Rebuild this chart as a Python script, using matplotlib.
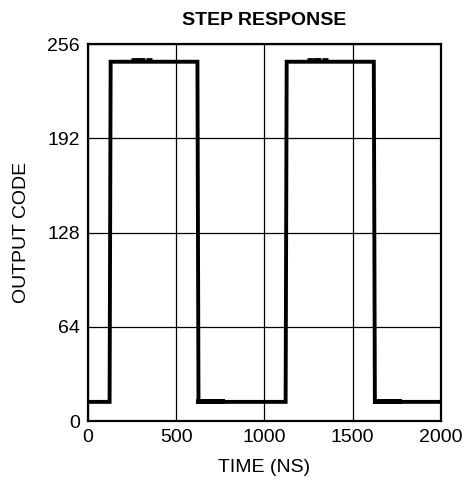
import matplotlib.pyplot as plt

plt.rcParams['font.family'] = ['Liberation Sans', 'DejaVu Sans']

# step response corners (time in ns, output code)
time_ns = [0, 122, 125, 128, 620, 623, 626, 1120, 1123, 1126, 1620, 1623, 1626, 2000]
code = [13, 13, 128, 244, 244, 128, 13, 13, 128, 244, 244, 128, 13, 13]

# settling tails just after the falling edges
tail_t = [[626, 760], [1626, 1760]]
tail_c = [[13.5, 13.5], [13.5, 13.5]]

x_ticks = [0, 500, 1000, 1500, 2000]
y_ticks = [0, 64, 128, 192, 256]


def main():
    fig = plt.figure(figsize=(4.66, 4.87), dpi=100)
    ax = fig.add_axes([0.189, 0.1355, 0.757, 0.774])

    ax.plot(time_ns, code, color='black', lw=2.8, solid_joinstyle='miter')
    for t, c in zip(tail_t, tail_c):
        ax.plot(t, c, color='black', lw=3.6)
    # little glitches on the high level
    ax.plot([260, 290, 305, 345], [246, 246, 246, 246], 'k_', ms=4, mew=2)
    ax.plot([1260, 1290, 1305, 1345], [246, 246, 246, 246], 'k_', ms=4, mew=2)

    ax.set_xlim(0, 2000)
    ax.set_ylim(0, 256)
    ax.set_xticks(x_ticks)
    ax.set_yticks(y_ticks)
    ax.grid(True, color='black', lw=0.9)
    ax.tick_params(length=0, labelsize=14, pad=6)
    for s in ax.spines.values():
        s.set_linewidth(1.6)

    ax.set_xlabel('TIME (NS)', fontsize=14, labelpad=9)
    ax.set_ylabel('OUTPUT CODE', fontsize=14, labelpad=12)
    ax.set_title('STEP RESPONSE', fontsize=14, fontweight='bold', pad=14)

    fig.savefig('out.png', dpi=100)


if __name__ == "__main__":
    main()
